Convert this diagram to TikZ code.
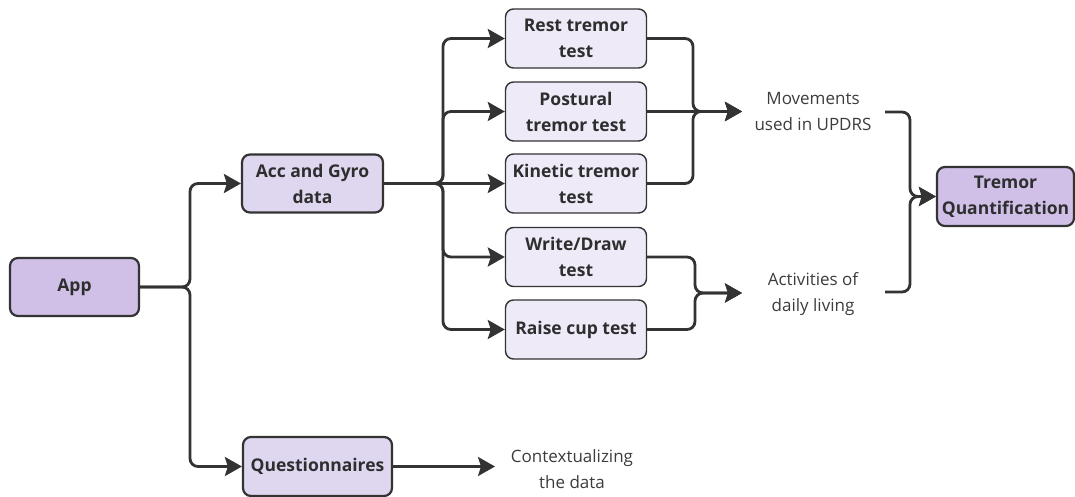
\documentclass[tikz,border=0pt]{standalone}
\usepackage{fontspec}
\setmainfont{Open Sans}
\usetikzlibrary{arrows.meta}
\definecolor{ink}{HTML}{333333}
\definecolor{txt}{HTML}{2E2E2E}
\definecolor{ltxt}{HTML}{3C3C3C}
\definecolor{fdark}{HTML}{D0C0E8}
\definecolor{fmid}{HTML}{DFD6F0}
\definecolor{flight}{HTML}{EEEAF8}
\begin{document}
\begin{tikzpicture}[x=1pt,y=-1pt,
  box/.style={draw=ink, line width=2.2pt, rounded corners=8pt, align=center,
    font=\fontsize{17.5}{26}\selectfont\bfseries, text=txt, inner sep=0pt},
  bigbox/.style={box, fill=fdark},
  midbox/.style={box, fill=fmid},
  testbox/.style={box, fill=flight, line width=1.4pt, minimum width=141pt, minimum height=59pt},
  lbl/.style={align=center, font=\fontsize{17}{26}\selectfont, text=ltxt},
  conn/.style={draw=ink, line width=2.8pt, rounded corners=8pt},
  arr/.style={conn, -{Stealth[length=17pt,width=19pt,inset=3pt]}}
]
\useasboundingbox (0,0) rectangle (1075,497);
\node[bigbox, minimum width=129pt, minimum height=58pt] (app) at (74.5,287) {App};
\node[midbox, minimum width=141pt, minimum height=58pt] (acc) at (312.5,183.5) {Acc and Gyro\\data};
\node[midbox, minimum width=149pt, minimum height=59pt] (quest) at (317.5,466.5) {Questionnaires};
\node[testbox] (rest) at (576,38.5) {Rest tremor\\test};
\node[testbox] (post) at (576,111.5) {Postural\\tremor test};
\node[testbox] (kin) at (576,183.5) {Kinetic tremor\\test};
\node[testbox] (write) at (576,257) {Write/Draw\\test};
\node[testbox] (raise) at (576,329.5) {Raise cup test};
\node[bigbox, minimum width=137pt, minimum height=59pt] (trem) at (1005.5,196.5) {Tremor\\Quantification};
\node[lbl] (mov) at (813,112) {Movements\\used in UPDRS};
\node[lbl] (act) at (813,294) {Activities of\\daily living};
\node[lbl] (ctx) at (572,469) {Contextualizing\\the data};
\coordinate (m1) at (742,111.5);
\coordinate (m2) at (742,293);
\coordinate (c1) at (495,466.5);
\coordinate (b1) at (885,112);
\coordinate (b2) at (885,292);
% App branches
\draw[arr] (app.east) -- (190,287) |- (acc.west);
\draw[arr] (app.east) -- (190,287) |- (quest.west);
% Acc bus
\draw[arr] (acc.east) -- (443,183.5) |- (rest.west);
\draw[arr] (acc.east) -- (443,183.5) |- (post.west);
\draw[arr] (acc.east) -- (kin.west);
\draw[arr] (acc.east) -- (443,183.5) |- (write.west);
\draw[arr] (acc.east) -- (443,183.5) |- (raise.west);
% merge to UPDRS
\draw[arr] (rest.east) -- (693,38.5) |- (m1);
\draw[arr] (post.east) -- (m1);
\draw[arr] (kin.east) -- (693,183.5) |- (m1);
% merge to ADL
\draw[arr] (write.east) -- (695,257) |- (m2);
\draw[arr] (raise.east) -- (695,329.5) |- (m2);
% questionnaires
\draw[arr] (quest.east) -- (c1);
% brace to tremor
\draw[arr] (b1) -- (910,112) |- (trem.west);
\draw[arr] (b2) -- (910,292) |- (trem.west);
\end{tikzpicture}
\end{document}
